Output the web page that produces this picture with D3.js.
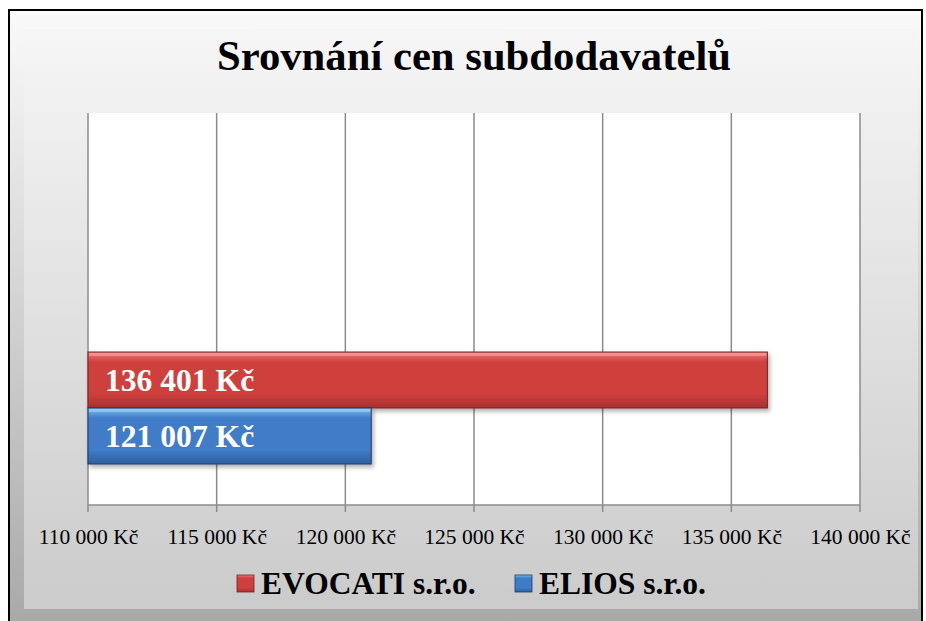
<!DOCTYPE html>
<meta charset="utf-8">
<script src="https://d3js.org/d3.v7.js"></script>
<style>
  body { margin: 0; background: #fff; }
  text { font-family: "Liberation Serif", "Times New Roman", serif; }
</style>
<div id="chart"></div>
<script>

// data
const series = ["EVOCATI s.r.o.", "ELIOS s.r.o."];
const values = [136401, 121007];
const tickValues = [110000, 115000, 120000, 125000, 130000, 135000, 140000];
const colors = {
  "EVOCATI s.r.o.": {top: "#f07a78", mid: "#cf3f3e", bot: "#a8302f", edge: "#7a1f1f"},
  "ELIOS s.r.o.":   {top: "#7fc0f4", mid: "#3f7cc8", bot: "#2f5f9e", edge: "#1d3d6a"}
};

const W = 926, H = 621;
const plot = {left: 88, right: 860, top: 113, bottom: 505};

const fmt = v => d3.format(",")(v).replace(/,/g, " ") + " Kč";

const svg = d3.select("#chart").append("svg")
  .attr("width", W).attr("height", H);

const defs = svg.append("defs");

const bg = defs.append("linearGradient").attr("id", "bg")
  .attr("x1", 0).attr("y1", 0).attr("x2", 0).attr("y2", 1);
bg.append("stop").attr("offset", "0%").attr("stop-color", "#f6f6f6");
bg.append("stop").attr("offset", "100%").attr("stop-color", "#cbcbcb");

const frame = defs.append("linearGradient").attr("id", "frame")
  .attr("x1", 0).attr("y1", 0).attr("x2", 0).attr("y2", 1);
frame.append("stop").attr("offset", "0%").attr("stop-color", "#fafafa");
frame.append("stop").attr("offset", "100%").attr("stop-color", "#a9a9a9");

series.forEach((s, i) => {
  const g = defs.append("linearGradient").attr("id", "bar" + i)
    .attr("x1", 0).attr("y1", 0).attr("x2", 0).attr("y2", 1);
  g.append("stop").attr("offset", "0%").attr("stop-color", colors[s].top);
  g.append("stop").attr("offset", "18%").attr("stop-color", colors[s].mid);
  g.append("stop").attr("offset", "75%").attr("stop-color", colors[s].mid);
  g.append("stop").attr("offset", "100%").attr("stop-color", colors[s].bot);
});

const shadow = defs.append("filter").attr("id", "shadow")
  .attr("x", "-5%").attr("y", "-20%").attr("width", "115%").attr("height", "150%");
shadow.append("feDropShadow").attr("dx", 2).attr("dy", 3)
  .attr("stdDeviation", 2).attr("flood-color", "#000").attr("flood-opacity", 0.3);

// outer frame
svg.append("rect")
  .attr("x", 9).attr("y", 10).attr("width", 913).attr("height", 612)
  .attr("fill", "url(#frame)").attr("stroke", "#000").attr("stroke-width", 2);
svg.append("rect")
  .attr("x", 24).attr("y", 29).attr("width", 894).attr("height", 580)
  .attr("fill", "url(#bg)");

// title
svg.append("text")
  .attr("x", 474).attr("y", 70)
  .attr("text-anchor", "middle")
  .attr("font-size", 42.7).attr("font-weight", "bold")
  .attr("fill", "#000")
  .text("Srovnání cen subdodavatelů");

// scales
const x = d3.scaleLinear().domain([110000, 140000]).range([plot.left, plot.right]);
const y = d3.scaleBand().domain(series).range([352, 464]).padding(0);

// plot area
svg.append("rect")
  .attr("x", plot.left).attr("y", plot.top)
  .attr("width", plot.right - plot.left).attr("height", plot.bottom - plot.top)
  .attr("fill", "#fff");

// grid lines
svg.append("g").selectAll("line")
  .data(tickValues)
  .join("line")
    .attr("x1", d => x(d)).attr("x2", d => x(d))
    .attr("y1", plot.top).attr("y2", plot.bottom + 7)
    .attr("stroke", "#8c8c8c").attr("stroke-width", 1.5);

svg.append("line")
  .attr("x1", plot.left).attr("x2", plot.right)
  .attr("y1", plot.bottom).attr("y2", plot.bottom)
  .attr("stroke", "#8c8c8c").attr("stroke-width", 1.5);

// x axis labels
const xAxis = svg.append("g")
  .attr("transform", `translate(0,${plot.bottom + 7})`)
  .attr("font-family", null)
  .call(d3.axisBottom(x).tickValues(tickValues).tickFormat(fmt).tickSize(0).tickPadding(17));
xAxis.attr("font-family", "Liberation Serif, serif");
xAxis.select(".domain").remove();
xAxis.selectAll("text")
  .style("font-family", "'Liberation Serif', serif")
  .attr("font-size", 21.5).attr("fill", "#000");

// bars
const data = series.map((s, i) => ({name: s, value: values[i], idx: i}));

const bars = svg.append("g").selectAll("g")
  .data(data)
  .join("g");

bars.append("rect")
  .attr("x", x(110000))
  .attr("y", d => y(d.name))
  .attr("width", d => x(d.value) - x(110000))
  .attr("height", y.bandwidth())
  .attr("fill", d => `url(#bar${d.idx})`)
  .attr("stroke", d => colors[d.name].edge).attr("stroke-width", 1)
  .attr("filter", "url(#shadow)");

// bevel highlight top
bars.append("rect")
  .attr("x", x(110000) + 1)
  .attr("y", d => y(d.name) + 1)
  .attr("width", d => x(d.value) - x(110000) - 2)
  .attr("height", 3)
  .attr("fill", "#fff").attr("opacity", 0.25);

// labels inside bars
bars.append("text")
  .attr("x", x(110000) + 17)
  .attr("y", d => y(d.name) + y.bandwidth() / 2 + 11)
  .attr("font-size", 31.6).attr("font-weight", "bold")
  .attr("fill", "#fff")
  .text(d => fmt(d.value));

// legend
const legendX = [237, 515];
const legend = svg.append("g").selectAll("g")
  .data(data)
  .join("g")
    .attr("transform", (d, i) => `translate(${legendX[i]},575)`);

legend.append("rect")
  .attr("width", 17).attr("height", 17)
  .attr("fill", d => `url(#bar${d.idx})`)
  .attr("stroke", d => colors[d.name].edge).attr("stroke-width", 0.8);

legend.append("text")
  .attr("x", 24).attr("y", 19)
  .attr("font-size", 31.5).attr("font-weight", "bold")
  .attr("fill", "#000")
  .text(d => d.name);

</script>
